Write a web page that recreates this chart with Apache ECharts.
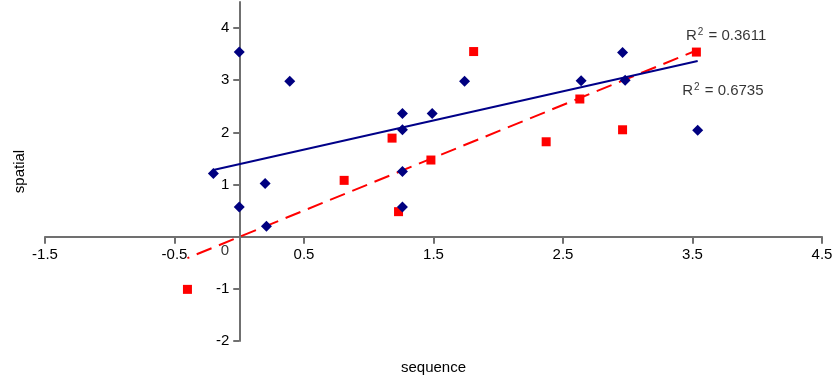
<!DOCTYPE html>
<html>
<head>
<meta charset="utf-8">
<script src="https://cdn.jsdelivr.net/npm/echarts@6/dist/echarts.min.js"></script>
<style>
  html, body { margin: 0; padding: 0; background: #fff; }
  #main { width: 832px; height: 377px; }
</style>
</head>
<body>
<div id="main"></div>
<script>
// points: [sequence, spatial]
var bluePoints = [
    [-0.20, 1.21], [0, 3.54], [0, 0.57], [0.20, 1.02], [0.21, 0.20], [0.39, 2.98],
    [1.26, 2.36], [1.26, 2.05], [1.26, 1.25], [1.26, 0.57], [1.49, 2.36], [1.74, 2.98],
    [2.64, 2.99], [2.96, 3.53], [2.98, 3.00], [3.54, 2.04]
];
var redPoints = [
    [-0.40, -1.01], [0.81, 1.08], [1.18, 1.89], [1.23, 0.48], [1.48, 1.47],
    [1.81, 3.55], [2.37, 1.82], [2.63, 2.64], [2.96, 2.05], [3.53, 3.54]
];
// trend line ends
var blueTrend = [[-0.20, 1.28], [3.54, 3.37]];
var redTrend = [[-0.40, -0.41], [3.53, 3.57]];

var xTicks = [-1.5, -0.5, 0.5, 1.5, 2.5, 3.5, 4.5];
var yTicks = [-2, -1, 1, 2, 3, 4];

// text notes placed in data space
var notes = [
    { value: [3.45, 3.86], text: '0.3611' },
    { value: [3.42, 2.79], text: '0.6735' }
];
var originNote = [-0.11, -0.27];

var font = '"Liberation Sans", Arial, Helvetica, sans-serif';
var axisGray = '#707070';

var W = 832, H = 377;
var gridL = 45, gridR = 10, gridT = 2, gridB = 36;
var xMin = -1.5, xMax = 4.5, yMin = -2, yMax = 4.5;
// move the axes to the zero lines (the axes cross at the origin)
var xOffset = -(H - gridT - gridB) * (0 - yMin) / (yMax - yMin);
var yOffset = -(W - gridL - gridR) * (0 - xMin) / (xMax - xMin);

var chart = echarts.init(document.getElementById('main'));

var option = {
    animation: false,
    grid: {
        left: gridL,
        right: gridR,
        top: gridT,
        bottom: gridB,
        containLabel: false,
        outerBoundsMode: 'none'
    },
    xAxis: {
        type: 'value',
        min: xMin,
        max: xMax,
        position: 'bottom',
        offset: xOffset,
        name: 'sequence',
        nameLocation: 'middle',
        nameGap: 124,
        nameTextStyle: { color: '#000', fontSize: 15, fontFamily: font },
        axisLine: { onZero: false, lineStyle: { color: axisGray, width: 2 } },
        axisTick: { show: true, length: 7, customValues: xTicks, lineStyle: { color: axisGray, width: 2 } },
        axisLabel: {
            customValues: xTicks,
            margin: 11,
            color: '#000',
            fontSize: 15,
            fontFamily: font
        },
        splitLine: { show: false }
    },
    yAxis: {
        type: 'value',
        min: yMin,
        max: yMax,
        position: 'left',
        offset: yOffset,
        name: 'spatial',
        nameLocation: 'middle',
        nameGap: 212,
        nameTextStyle: { color: '#000', fontSize: 15, fontFamily: font },
        axisLine: { onZero: false, lineStyle: { color: axisGray, width: 2 } },
        axisTick: { show: true, length: 6, customValues: yTicks, lineStyle: { color: axisGray, width: 2 } },
        axisLabel: {
            customValues: yTicks,
            margin: 10,
            color: '#000',
            fontSize: 15,
            fontFamily: font
        },
        splitLine: { show: false }
    },
    series: [
        {
            name: 'trend red',
            type: 'line',
            data: redTrend,
            symbol: 'none',
            lineStyle: { color: '#ff0000', width: 2, type: [16, 8], dashOffset: 14 },
            z: 2
        },
        {
            name: 'trend blue',
            type: 'line',
            data: blueTrend,
            symbol: 'none',
            lineStyle: { color: '#000088', width: 2 },
            z: 2
        },
        {
            name: 'spatial red',
            type: 'scatter',
            data: redPoints,
            symbol: 'rect',
            symbolSize: 9,
            itemStyle: { color: '#ff0000', opacity: 1 },
            z: 3
        },
        {
            name: 'spatial blue',
            type: 'scatter',
            data: bluePoints,
            symbol: 'diamond',
            symbolSize: 11,
            itemStyle: { color: '#000080', opacity: 1 },
            z: 4
        },
        {
            name: 'notes',
            type: 'scatter',
            symbolSize: 0,
            silent: true,
            data: notes.map(function (n) {
                return {
                    value: n.value,
                    label: {
                        show: true,
                        position: 'right',
                        distance: 0,
                        formatter: '{a|R}{s|2}{a| = ' + n.text + '}',
                        rich: {
                            a: { fontSize: 15, fontFamily: font, color: '#000' },
                            s: { fontSize: 10, fontFamily: font, color: '#000', verticalAlign: 'top', padding: [0, 1, 7, 1] }
                        }
                    }
                };
            }),
            z: 5
        },
        {
            name: 'origin',
            type: 'scatter',
            symbolSize: 0,
            silent: true,
            data: [{
                value: originNote,
                label: { show: true, position: 'inside', formatter: '0', color: '#000', fontSize: 15, fontFamily: font }
            }],
            z: 5
        }
    ]
};

chart.setOption(option);
</script>
</body>
</html>
